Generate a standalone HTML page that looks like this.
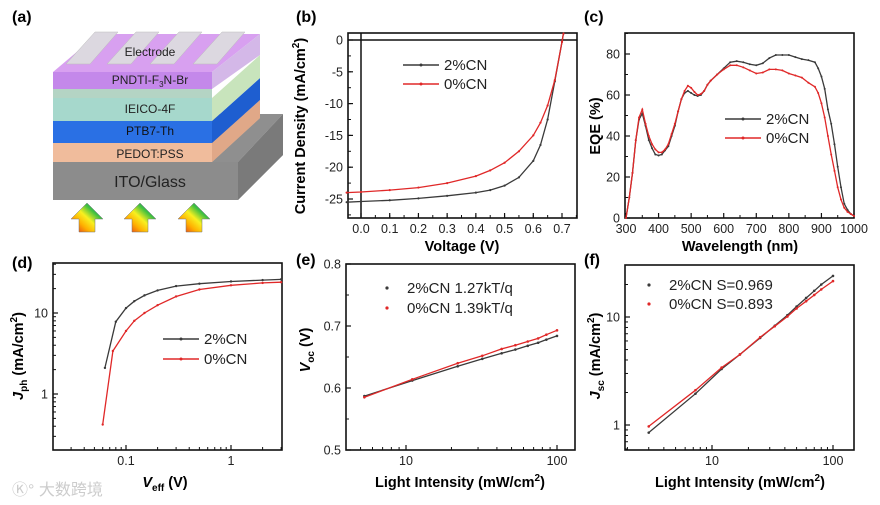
<!DOCTYPE html>
<html><head><meta charset="utf-8"><style>
body{margin:0;background:#fff;width:880px;height:505px;overflow:hidden}
svg{display:block;font-family:"Liberation Sans",Arial,sans-serif}
.pl{font-weight:bold;font-size:16px}
.tk{font-size:12.5px;fill:#222}
.al{font-weight:bold;font-size:14.5px}
.lg{font-size:15px;fill:#222}
</style></head><body>
<svg id="fig" width="880" height="505" viewBox="0 0 880 505">
<defs>
<linearGradient id="rb" x1="0" y1="1" x2="1" y2="0">
<stop offset="0" stop-color="#e02020"/><stop offset="0.3" stop-color="#ffb000"/><stop offset="0.5" stop-color="#f8f020"/><stop offset="0.7" stop-color="#40c040"/><stop offset="1" stop-color="#2060d0"/></linearGradient>
</defs>
<g>
<text class="pl" x="12" y="22">(a)</text>
<polygon points="53,162 238,162 283,114 283,155 238,200 53,200" fill="#9a9a9a"/>
<polygon points="238,162 283,114 283,155 238,200" fill="#7a7a7a"/>
<polygon points="53,162 98,114 283,114 238,162" fill="#8f8f8f"/>
<rect x="53" y="162" width="185" height="38" fill="#8c8c8c"/>
<polygon points="53,143 212,143 260,100 260,118 212,162 53,162" fill="#eab796"/>
<rect x="53" y="143" width="159" height="19" fill="#f0bc9c"/>
<polygon points="212,143 260,100 260,118 212,162" fill="#e0a888"/>
<rect x="53" y="121" width="159" height="22" fill="#2a70e4"/>
<polygon points="212,121 260,78 260,100 212,143" fill="#1e5ed0"/>
<rect x="53" y="98" width="159" height="23" fill="#a6d8cc"/>
<polygon points="212,98 260,55 260,78 212,121" fill="#c8e4bc"/>
<rect x="53" y="72" width="159" height="17" fill="#c488ea"/>
<rect x="53" y="89" width="159" height="9" fill="#b4d4c4"/>
<polygon points="53,72 98,34 260,34 212,72" fill="#d8a0f0"/>
<polygon points="212,72 260,34 260,55 212,89" fill="#d4b8e8"/>
<g fill="#dcd8e0" stroke="#bbb" stroke-width="0.5">
<polygon points="66,64 95,32 118,32 90,64"/><polygon points="107,64 136,32 159,32 131,64"/>
<polygon points="150,64 179,32 202,32 174,64"/><polygon points="193,64 222,32 245,32 217,64"/>
</g>
<text x="150" y="56" font-size="12" text-anchor="middle" fill="#222">Electrode</text>
<text x="150" y="84" font-size="12" text-anchor="middle" fill="#222">PNDTI-F<tspan font-size="8" dy="3">3</tspan><tspan dy="-3">N-Br</tspan></text>
<text x="150" y="113" font-size="12" text-anchor="middle" fill="#222">IEICO-4F</text>
<text x="150" y="135" font-size="12" text-anchor="middle" fill="#111">PTB7-Th</text>
<text x="150" y="158" font-size="12" text-anchor="middle" fill="#222">PEDOT:PSS</text>
<text x="150" y="187" font-size="16" text-anchor="middle" fill="#222">ITO/Glass</text>
<g fill="url(#rb)" stroke="#777" stroke-width="0.5">
<polygon points="71,219 87,203 103,219 95,219 95,232 79,232 79,219"/>
<polygon points="124,219 140,203 156,219 148,219 148,232 132,232 132,219"/>
<polygon points="178,219 194,203 210,219 202,219 202,232 186,232 186,219"/>
</g>
</g>
<text x="12" y="495" font-size="16" fill="#ccc">Ⓚ° 大数跨境</text>
<text class="pl" x="296" y="22">(b)</text>
<text class="pl" x="584" y="22">(c)</text>
<text class="pl" x="12" y="268">(d)</text>
<text class="pl" x="296" y="265">(e)</text>
<text class="pl" x="584" y="265">(f)</text>
</svg>
<script>
// Panel b
const jvV=[-0.05,0,0.1,0.2,0.3,0.4,0.45,0.5,0.55,0.6,0.625,0.65,0.675,0.7,0.705];
const jv2=[-25.5,-25.4,-25.2,-24.9,-24.5,-24.0,-23.6,-22.9,-21.6,-19.0,-16.5,-12.5,-6.5,-0.3,1];
const jv0=[-24.0,-23.9,-23.6,-23.2,-22.5,-21.4,-20.5,-19.3,-17.5,-15.0,-13.0,-10.3,-6.3,-0.3,1];
const bXTicks=[0,0.1,0.2,0.3,0.4,0.5,0.6,0.7];
const bYTicks=[0,-5,-10,-15,-20,-25];
// Panel c
const eqeW=[300,310,320,330,340,350,360,370,380,390,400,410,420,430,440,450,460,470,480,490,500,510,520,530,540,550,560,580,600,620,640,660,680,700,720,740,760,780,800,820,840,860,880,890,900,910,920,930,940,950,960,970,980,990,1000];
const eqe2=[0,10,22,38,48,51,45,38,34,31,30.5,31,33,35,40,45,52,58,61,62,61,60,59.5,60,62,65,67,70,73,76,76.5,76,75,74.5,75.5,78,79.5,79.5,79.5,78.5,77.5,77,76,73,69,63,53,46,36,25,15,7,4,2,1];
const eqe0=[0,10,22,38,49,53,46,40,36,33.5,32,32,33.5,36,41,46,52,58,62,64.5,63.5,61.5,60,60.5,62,65,67,70,72.5,74.5,74.5,73.5,72,70.5,71,72.5,72.5,72,70.5,69.5,68.5,66,64,61,56,49,40,31,23,15,9,5,3,2,1];
const cXTicks=[300,400,500,600,700,800,900,1000];
const cYTicks=[0,20,40,60,80];
// Panel d
const dX2=[0.063,0.08,0.1,0.12,0.15,0.2,0.3,0.5,1,2,3];
const dY2=[2.1,7.8,11.5,14,16.5,19,21.5,23,24.5,25.5,26];
const dX0=[0.06,0.075,0.1,0.12,0.15,0.2,0.3,0.5,1,2,3];
const dY0=[0.42,3.4,6,8,10,12.5,16,19.5,22,23.5,24];
const dXTicks=[0.1,1];
const dYTicks=[1,10];
// Panel e
const eX=[5.3,11,22,32,43,53,64,75,85,100];
const eY2=[0.587,0.612,0.635,0.647,0.656,0.662,0.668,0.673,0.678,0.684];
const eY0=[0.585,0.614,0.640,0.652,0.663,0.669,0.675,0.680,0.686,0.693];
const eXTicks=[10,100];
const eYTicks=[0.5,0.6,0.7,0.8];
// Panel f
const fX=[3,7.3,12,17,25,33,42,50,60,70,80,100];
const fY2=[0.85,1.95,3.3,4.5,6.4,8.3,10.4,12.5,15,17.5,20,24];
const fY0=[0.97,2.1,3.4,4.5,6.5,8.2,10.1,12,14,16,18,21.5];
const fXTicks=[10,100];
const fYTicks=[1,10];

const NS='http://www.w3.org/2000/svg';
const svg=document.getElementById('fig');
function mk(tag,attrs,parent){const e=document.createElementNS(NS,tag);for(const k in attrs)e.setAttribute(k,attrs[k]);(parent||svg).appendChild(e);return e;}
function lin(d0,d1,r0,r1){return v=>r0+(v-d0)/(d1-d0)*(r1-r0);}
function lg(d0,d1,r0,r1){return v=>r0+(Math.log10(v)-Math.log10(d0))/(Math.log10(d1)-Math.log10(d0))*(r1-r0);}

function panel(name,box,sx,sy,xt,yt,xfmt,yfmt,xminor,yminor){
  const g=mk('g',{});
  
  
  const ax=mk('rect',{x:box[0],y:box[1],width:box[2]-box[0],height:box[3]-box[1],fill:'none',stroke:'#111','stroke-width':1.6},g);
  
  
  xt.forEach(v=>{const x=sx(v);mk('line',{x1:x,x2:x,y1:box[3],y2:box[3]-5,stroke:'#111','stroke-width':1.2},g);
    const t=mk('text',{x:x,y:box[3]+15,'text-anchor':'middle',class:'tk'},g);t.textContent=xfmt(v);
    
    });
  yt.forEach(v=>{const y=sy(v);mk('line',{x1:box[0],x2:box[0]+5,y1:y,y2:y,stroke:'#111','stroke-width':1.2},g);
    const t=mk('text',{x:box[0]-5,y:y+4.5,'text-anchor':'end',class:'tk'},g);t.textContent=yfmt(v);
    
    });
  (xminor||[]).forEach(v=>{const x=sx(v);if(x>box[0]&&x<box[2])mk('line',{x1:x,x2:x,y1:box[3],y2:box[3]-3,stroke:'#111','stroke-width':1},g);});
  (yminor||[]).forEach(v=>{const y=sy(v);if(y>box[1]&&y<box[3])mk('line',{x1:box[0],x2:box[0]+3,y1:y,y2:y,stroke:'#111','stroke-width':1},g);});
  return g;
}
function series(g,name,xs,ys,sx,sy,col,line,r){
  const pts=xs.map((x,i)=>sx(x).toFixed(1)+','+sy(ys[i]).toFixed(1)).join(' ');
  if(line){const p=mk('polyline',{points:pts,fill:'none',stroke:col,'stroke-width':1.3},g);
    
    }
  xs.forEach((x,i)=>{const c=mk('circle',{cx:sx(x),cy:sy(ys[i]),r:r,fill:col},g);
    
    });
}
function legend(g,items,x,y,dy,line){
  items.forEach((it,i)=>{const yy=y+i*dy;
    if(line){mk('line',{x1:x,x2:x+36,y1:yy,y2:yy,stroke:it[1],'stroke-width':1.4},g);mk('circle',{cx:x+18,cy:yy,r:1.5,fill:it[1]},g);}
    else mk('circle',{cx:x,cy:yy,r:1.6,fill:it[1]},g);
    const t=mk('text',{x:line?x+41:x+20,y:yy+5,class:'lg'},g);t.textContent=it[0];
    
    });
}
function label(txt,x,y,rot,html){
  const t=mk('text',{x:x,y:y,'text-anchor':'middle',class:'al',transform:rot?`rotate(-90 ${x} ${y})`:''});
  t.innerHTML=html||txt;
  
  
}
const BLK='#3a3a3a',RED='#e02828';
function range(a,b,s){const r=[];for(let v=a;v<=b+1e-9;v+=s)r.push(+v.toFixed(4));return r;}
function logMinor(a,b){const r=[];for(let d=a;d<b;d*=10)for(let k=2;k<10;k++)r.push(d*k);return r;}

// b
let sx=lin(0,0.7,361,562), sy=lin(0,-25,40,199);
let g=panel('jv-chart',[348,33,577,218],sx,sy,bXTicks,bYTicks,v=>v.toFixed(1),v=>String(v),range(-0.05,0.75,0.05),range(-27.5,2.5,2.5));
mk('line',{x1:361,x2:361,y1:33,y2:218,stroke:'#111','stroke-width':1.5},g);
mk('line',{x1:348,x2:577,y1:40,y2:40,stroke:'#111','stroke-width':1.5},g);
series(g,'jv-2cn',jvV,jv2,sx,sy,BLK,true,1.1);
series(g,'jv-0cn',jvV,jv0,sx,sy,RED,true,1.1);
legend(g,[['2%CN',BLK],['0%CN',RED]],403,65,19,true);
label('Voltage (V)',462,251,false);
label('',305,126,true,'Current Density (mA/cm<tspan font-size="10" dy="-6">2</tspan><tspan dy="6">)</tspan>');

// c
sx=lin(300,1000,626,854); sy=lin(0,80,218,54);
g=panel('eqe-chart',[625,33,854,218],sx,sy,cXTicks,cYTicks,v=>String(v),v=>String(v),range(350,950,100),range(10,90,20));
series(g,'eqe-2cn',eqeW,eqe2,sx,sy,BLK,true,1);
series(g,'eqe-0cn',eqeW,eqe0,sx,sy,RED,true,1);
legend(g,[['2%CN',BLK],['0%CN',RED]],725,119,19,true);
label('Wavelength (nm)',740,251,false);
label('EQE (%)',600,126,true);

// d
sx=lg(0.1,1,126,231); sy=lg(1,10,394,313);
g=panel('jph-chart',[53,263,282,450],sx,sy,dXTicks,dYTicks,v=>String(v),v=>String(v),logMinor(0.01,1).concat(logMinor(1,10)),logMinor(0.1,10).concat([20,30,40]));
series(g,'jph-2cn',dX2,dY2,sx,sy,BLK,true,1.2);
series(g,'jph-0cn',dX0,dY0,sx,sy,RED,true,1.2);
legend(g,[['2%CN',BLK],['0%CN',RED]],163,339,20,true);
label('',165,487,false,'<tspan font-style="italic">V</tspan><tspan font-size="10" dy="4">eff</tspan><tspan dy="-4"> (V)</tspan>');
label('',23,356,true,'<tspan font-style="italic">J</tspan><tspan font-size="10" dy="4">ph</tspan><tspan dy="-4"> (mA/cm</tspan><tspan font-size="10" dy="-6">2</tspan><tspan dy="6">)</tspan>');

// e
sx=lg(10,100,406,557); sy=lin(0.5,0.8,450,264);
g=panel('voc-chart',[346,264,575,450],sx,sy,eXTicks,eYTicks,v=>String(v),v=>v.toFixed(1),logMinor(1,100),range(0.55,0.75,0.1));
series(g,'voc-2cn',eX,eY2,sx,sy,BLK,true,1.3);
series(g,'voc-0cn',eX,eY0,sx,sy,RED,true,1.3);
legend(g,[['2%CN 1.27kT/q',BLK],['0%CN 1.39kT/q',RED]],387,288,20,false);
label('',460,487,false,'Light Intensity (mW/cm<tspan font-size="10" dy="-6">2</tspan><tspan dy="6">)</tspan>');
label('',310,350,true,'<tspan font-style="italic">V</tspan><tspan font-size="10" dy="4">oc</tspan><tspan dy="-4"> (V)</tspan>');

// f
sx=lg(10,100,712,833); sy=lg(1,10,425,317);
g=panel('jsc-chart',[625,265,854,450],sx,sy,fXTicks,fYTicks,v=>String(v),v=>String(v),logMinor(1,100),logMinor(0.1,10).concat([20]));
series(g,'jsc-2cn',fX,fY2,sx,sy,BLK,true,1.3);
series(g,'jsc-0cn',fX,fY0,sx,sy,RED,true,1.3);
legend(g,[['2%CN S=0.969',BLK],['0%CN S=0.893',RED]],649,285,19,false);
label('',740,487,false,'Light Intensity (mW/cm<tspan font-size="10" dy="-6">2</tspan><tspan dy="6">)</tspan>');
label('',600,356,true,'<tspan font-style="italic">J</tspan><tspan font-size="10" dy="4">sc</tspan><tspan dy="-4"> (mA/cm</tspan><tspan font-size="10" dy="-6">2</tspan><tspan dy="6">)</tspan>');
</script>
</body></html>
